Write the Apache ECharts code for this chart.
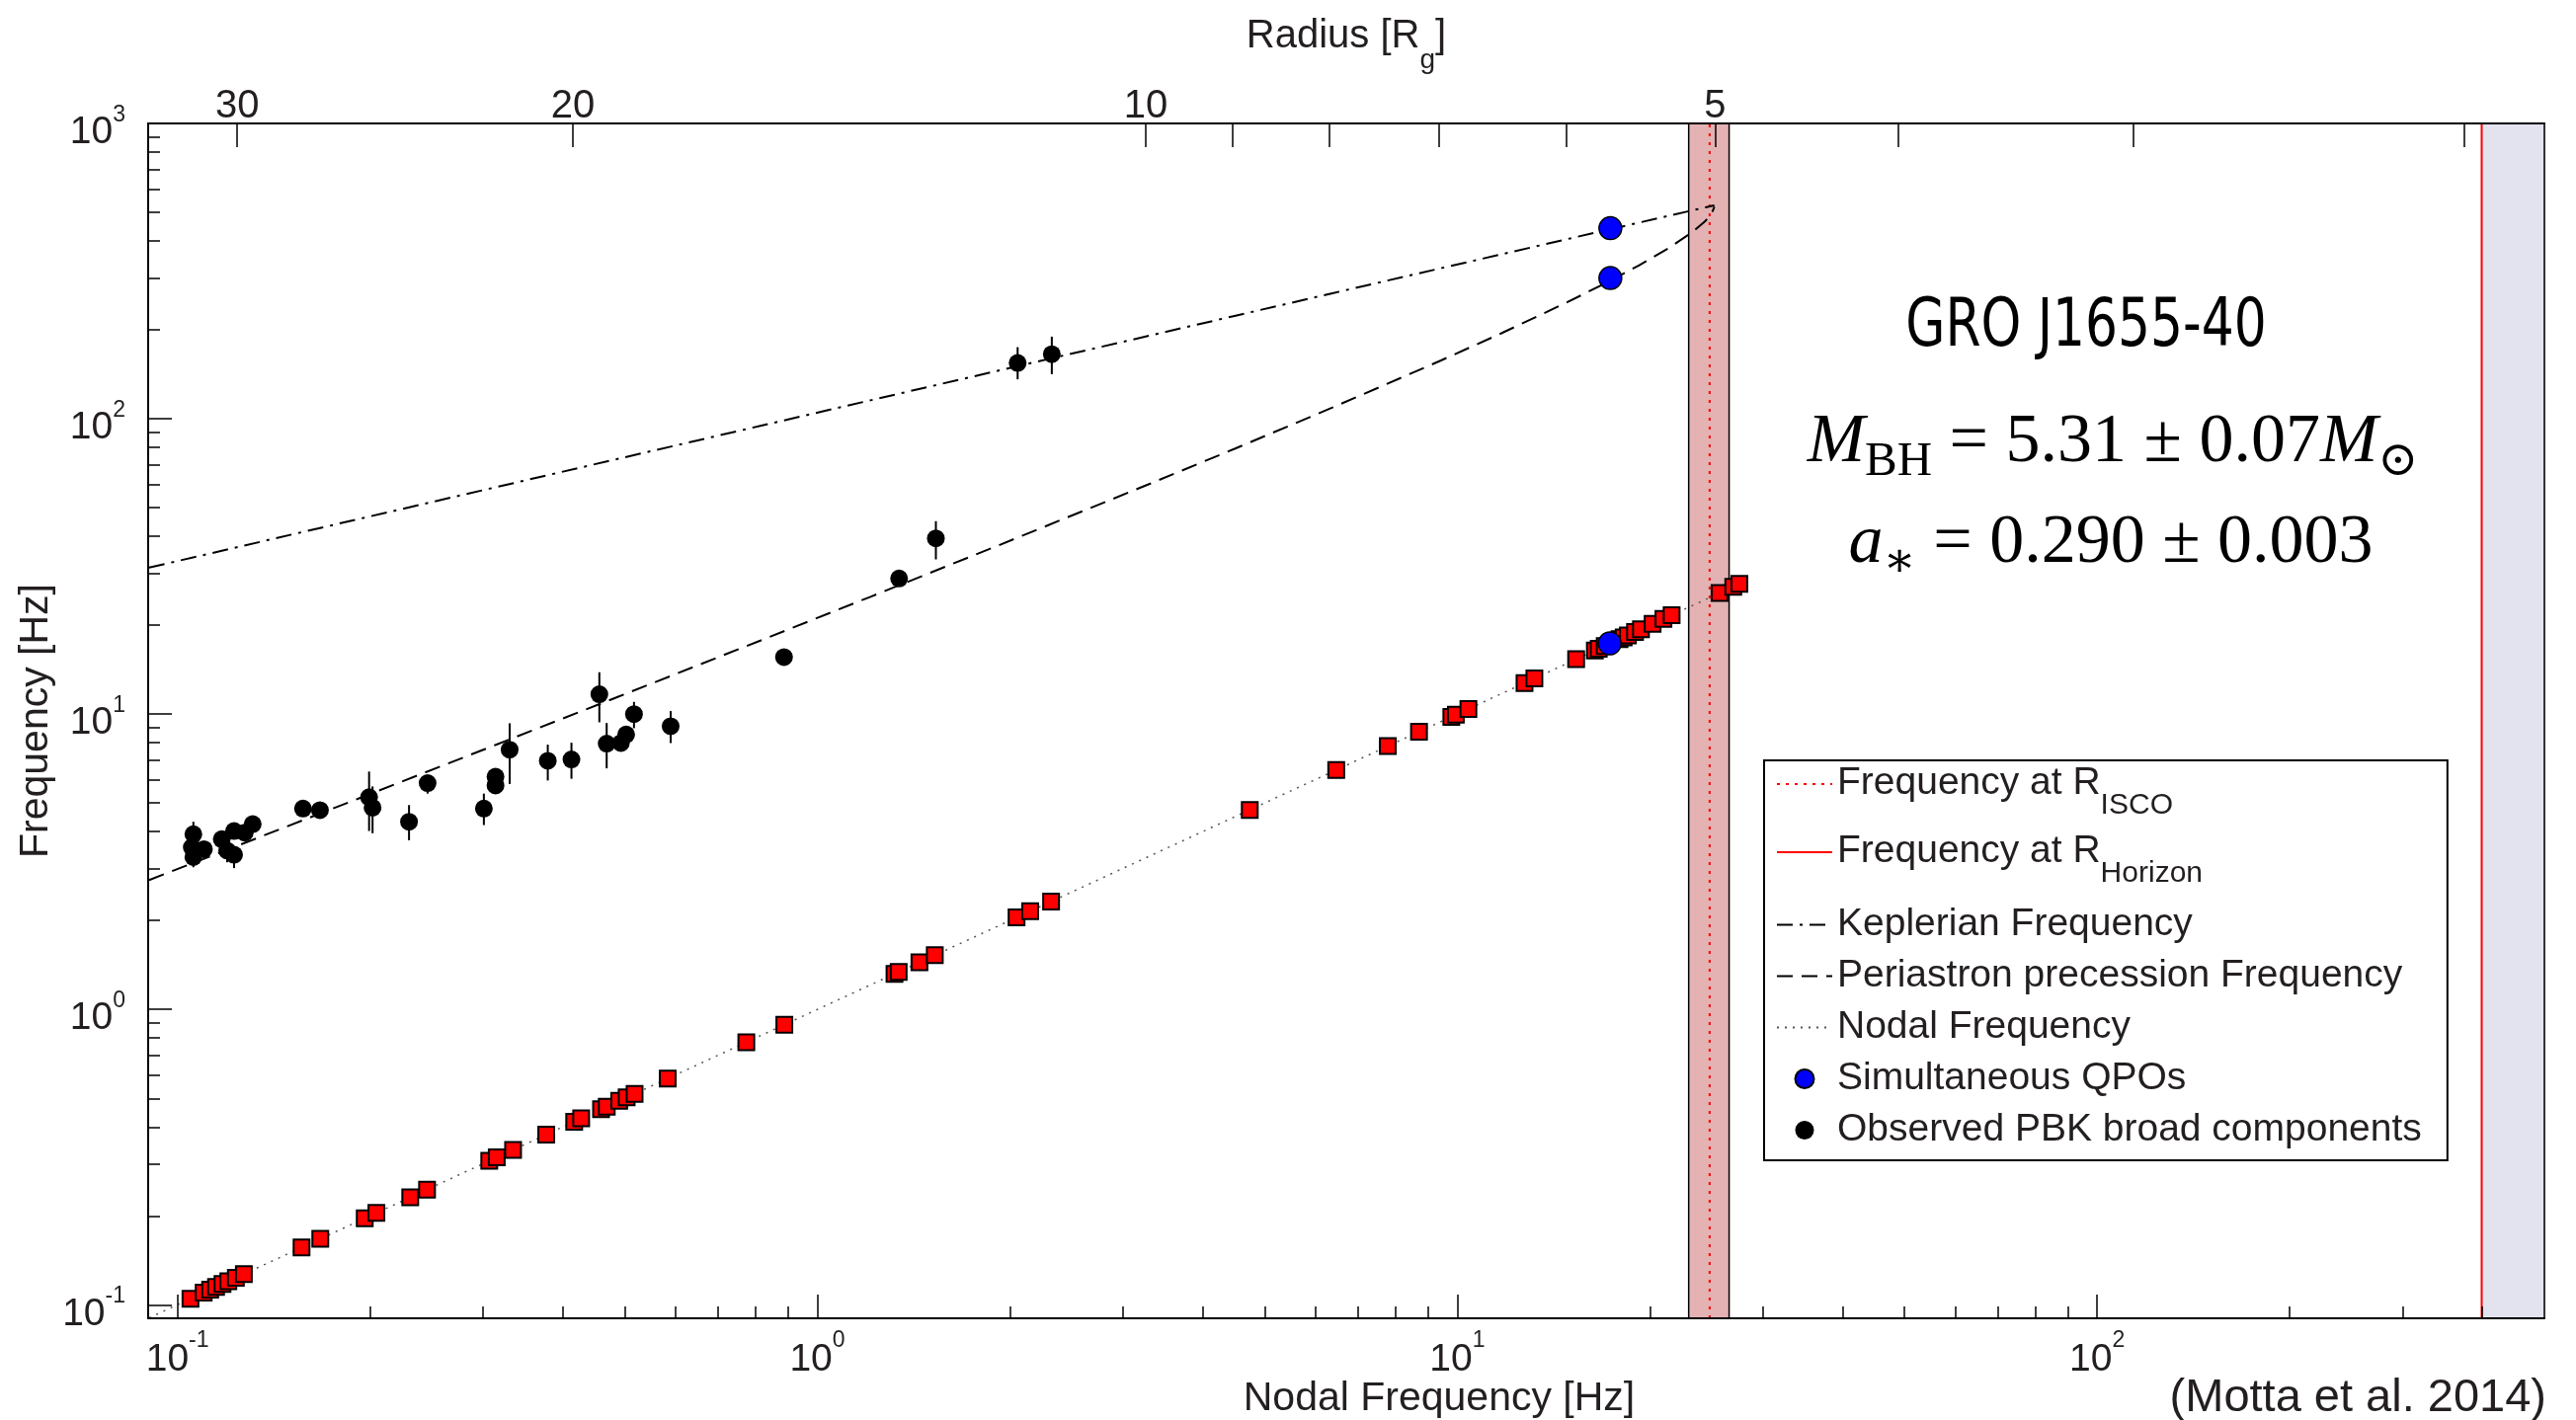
<!DOCTYPE html>
<html><head><meta charset="utf-8">
<script src="https://cdn.jsdelivr.net/npm/echarts@6/dist/echarts.min.js"></script>
<style>html,body{margin:0;padding:0;background:#fff}#c{width:2608px;height:1438px}</style>
</head><body><div id="c"></div>
<script>
// ---------------- data ----------------
// model curves, sampled along the plotted lines (x = nodal frequency)
const modelNodal  = [0.0903, 0.1255, 0.1922, 0.3160, 0.4887, 0.8145, 1.2109, 1.9132, 3.2844, 4.4871, 6.3576, 9.4341, 11.742, 14.871, 17.299, 19.220, 21.436, 23.328, 24.430, 25.006, 25.227];
const modelKepler = [31.33, 36.96, 45.79, 58.80, 73.21, 94.63, 115.50, 145.34, 190.64, 222.94, 265.48, 323.44, 360.82, 405.95, 437.74, 461.31, 487.05, 507.97, 519.74, 525.79, 528.1];
const modelPeri   = [2.742, 3.617, 5.185, 7.903, 11.455, 17.738, 24.965, 37.157, 59.83, 79.12, 108.74, 157.58, 195.10, 248.28, 292.51, 330.33, 379.15, 429.36, 467.82, 497.78, 521.9];

// red squares: type-C QPOs sitting on the nodal line (frequency vs itself)
const qpoNodal = [0.1048, 0.1099, 0.1125, 0.1149, 0.1176, 0.1201, 0.1234, 0.1270, 0.1563, 0.1672, 0.1962, 0.2046, 0.2311, 0.2455, 0.3071, 0.3155, 0.3346, 0.3770, 0.4169, 0.4275, 0.4592, 0.4687, 0.4902, 0.5035, 0.5181, 0.5837, 0.7745, 0.888, 1.32, 1.34, 1.444, 1.526, 2.048, 2.151, 2.319, 4.74, 6.47, 7.79, 8.715, 9.79, 9.95, 10.41, 12.74, 13.2, 15.34, 16.41, 16.64, 17.0, 17.93, 18.2, 18.48, 18.96, 19.37, 20.2, 21.0, 21.63, 25.7, 27.0, 27.6];

// black points: observed PBK broad components with error bars
const pbkX  = [0.1059, 0.1053, 0.1059, 0.1100, 0.1173, 0.1196, 0.1226, 0.1226, 0.1274, 0.1311, 0.1571, 0.1670, 0.1993, 0.2018, 0.2301, 0.2460, 0.3012, 0.3141, 0.3141, 0.3305, 0.3791, 0.4128, 0.4564, 0.4686, 0.4932, 0.5026, 0.5170, 0.5899, 0.887, 1.342, 1.532, 2.056, 2.325];
const pbkY  = [3.92, 3.54, 3.28, 3.49, 3.77, 3.45, 4.02, 3.34, 3.97, 4.24, 4.79, 4.73, 5.23, 4.82, 4.32, 5.84, 4.79, 6.14, 5.73, 7.58, 6.95, 7.02, 11.67, 7.94, 7.98, 8.53, 10.0, 9.10, 15.6, 28.8, 39.35, 154.5, 165.4];
const pbkLo = [3.6, 3.35, 3.03, 3.35, 3.55, 3.15, 3.85, 3.01, 3.8, 4.1, 4.6, 4.55, 4.02, 3.95, 3.74, 5.38, 4.21, 5.75, 5.4, 5.80, 5.96, 6.04, 9.38, 6.55, 7.6, 8.1, 8.96, 7.98, 14.9, 27.3, 33.4, 136, 141.6];
const pbkHi = [4.32, 3.7, 3.5, 3.65, 3.95, 3.7, 4.2, 3.55, 4.12, 4.4, 5.0, 4.9, 6.39, 5.69, 4.92, 6.19, 5.38, 6.55, 6.0, 9.31, 7.88, 8.0, 13.86, 9.33, 8.3, 8.9, 11.0, 10.24, 16.3, 30.2, 45.0, 174.8, 189.7];

// blue points: simultaneous QPOs
const simX = [17.35, 17.35, 17.31];
const simY = [442, 299.5, 17.35];

// characteristic frequencies
const iscoFreq = 24.8;
const iscoBand = [23.0, 26.6];
const horizonFreq = 399;

// axis ticks
const xMajor = [0.1, 1, 10, 100];
const xMinor = [0.2,0.3,0.4,0.5,0.6,0.7,0.8,0.9, 2,3,4,5,6,7,8,9, 20,30,40,50,60,70,80,90, 200,300,400];
const yMajor = [0.1, 1, 10, 100, 1000];
const yMinor = [0.2,0.3,0.4,0.5,0.6,0.7,0.8,0.9, 2,3,4,5,6,7,8,9, 20,30,40,50,60,70,80,90, 200,300,400,500,600,700,800,900];
const radiusTicks    = [30, 20, 10, 9, 8, 7, 6, 5, 4, 3, 2];
const radiusTickPos  = [0.124, 0.415, 3.26, 4.45, 6.32, 9.36, 14.8, 25.3, 48.9, 114, 375];
const radiusLabeled  = [30, 20, 10, 5];

// ---------------- chart ----------------
const FONT = "'Liberation Sans', Arial, Helvetica, sans-serif";
const SERIF = "'Liberation Serif', 'DejaVu Serif', serif";
const TXT = '#231f20';
const XMIN = 0.09, XMAX = 500, YMIN = 0.09, YMAX = 1000;

function powLabel(v) {
  const e = Math.round(Math.log10(v));
  return '{b|10}{s|' + (e < 0 ? '-' + (-e) : e) + '}';
}
const xRich = {
  b: {fontSize: 39, lineHeight: 40, padding: [12, 0, 0, 0], verticalAlign: 'top', fontFamily: FONT, color: TXT},
  s: {fontSize: 23, lineHeight: 24, verticalAlign: 'top', fontFamily: FONT, color: TXT}
};
const yRich = {
  b: {fontSize: 39, lineHeight: 40, padding: [10, 0, 10, 0], verticalAlign: 'top', fontFamily: FONT, color: TXT},
  s: {fontSize: 23, lineHeight: 24, verticalAlign: 'top', fontFamily: FONT, color: TXT}
};
const axLine = {show: true, lineStyle: {color: '#000', width: 2}};
const noLine = {show: false};

const legendText = {
  isco: '{t|Frequency at R}{s|ISCO}',
  horizon: '{t|Frequency at R}{s|Horizon}',
  kepler: '{p|Keplerian Frequency}',
  peri: '{p|Periastron precession Frequency}',
  nodal: '{p|Nodal Frequency}',
  qpo: '{p|Simultaneous QPOs}',
  pbk: '{p|Observed PBK broad components}'
};

const mathRich = {
  i: {fontSize: 70, lineHeight: 76, fontStyle: 'italic', fontFamily: SERIF, verticalAlign: 'top', fill: '#000'},
  n: {fontSize: 70, lineHeight: 76, fontFamily: SERIF, verticalAlign: 'top', fill: '#000'},
  s: {fontSize: 49, lineHeight: 49, padding: [30, 0, 0, 0], fontFamily: SERIF, verticalAlign: 'top', fill: '#000'}
};

const chart = echarts.init(document.getElementById('c'), null, {renderer: 'canvas'});
chart.setOption({
  animation: false,
  backgroundColor: '#fff',
  grid: {left: 150, right: 32, top: 125, bottom: 103, show: false, containLabel: false, outerBoundsMode: 'none'},
  xAxis: [
    { type: 'log', position: 'bottom', min: XMIN, max: XMAX, z: 5,
      axisLine: axLine,
      axisTick: {customValues: xMajor, inside: true, length: 24, lineStyle: {color: '#000', width: 1.5}},
      axisLabel: {customValues: xMajor, formatter: powLabel, rich: xRich, margin: 11},
      splitLine: {show: false}, minorTick: {show: false},
      name: 'Nodal Frequency [Hz]', nameLocation: 'middle', nameGap: 60, nameMoveOverlap: false,
      nameTextStyle: {fontSize: 41, lineHeight: 44, fontFamily: FONT, color: TXT, padding: [0, 0, 0, 188]}
    },
    { type: 'log', position: 'bottom', min: XMIN, max: XMAX, z: 5,
      axisLine: noLine,
      axisTick: {customValues: xMinor, inside: true, length: 12, lineStyle: {color: '#000', width: 1.5}},
      axisLabel: {show: false}, splitLine: {show: false}
    },
    { type: 'log', position: 'top', min: XMIN, max: XMAX, z: 5,
      axisLine: axLine,
      axisTick: {customValues: radiusTickPos, inside: true, length: 24, lineStyle: {color: '#000', width: 1.5}},
      axisLabel: {
        customValues: radiusLabeled.map(r => radiusTickPos[radiusTicks.indexOf(r)]),
        formatter: function (v) {
          let best = 0, d = Infinity;
          radiusTickPos.forEach((p, i) => { const dd = Math.abs(Math.log(v / p)); if (dd < d) { d = dd; best = i; } });
          return String(radiusTicks[best]);
        },
        margin: -3, fontSize: 40, lineHeight: 40, fontFamily: FONT, color: TXT
      },
      splitLine: {show: false},
      name: '{t|Radius [R}{g|g}{t|]}', nameLocation: 'middle', nameGap: 64, nameMoveOverlap: false,
      nameTextStyle: {
        rich: {
          t: {fontSize: 40, lineHeight: 44, verticalAlign: 'top', fontFamily: FONT, color: TXT},
          g: {fontSize: 28, lineHeight: 30, padding: [30, 0, 0, 0], verticalAlign: 'top', fontFamily: FONT, color: TXT}
        }
      }
    }
  ],
  yAxis: [
    { type: 'log', position: 'left', min: YMIN, max: YMAX, z: 5,
      axisLine: axLine,
      axisTick: {customValues: yMajor, inside: true, length: 24, lineStyle: {color: '#000', width: 1.5}},
      axisLabel: {customValues: yMajor, formatter: powLabel, rich: yRich, margin: 23},
      splitLine: {show: false},
      name: 'Frequency [Hz]', nameLocation: 'middle', nameGap: 91, nameMoveOverlap: false,
      nameTextStyle: {fontSize: 41, lineHeight: 44, fontFamily: FONT, color: TXT}
    },
    { type: 'log', position: 'left', min: YMIN, max: YMAX, z: 5,
      axisLine: noLine,
      axisTick: {customValues: yMinor, inside: true, length: 12, lineStyle: {color: '#000', width: 1.5}},
      axisLabel: {show: false}, splitLine: {show: false}
    },
    { type: 'log', position: 'right', min: YMIN, max: YMAX, z: 5,
      axisLine: {show: true, lineStyle: {color: '#333', width: 2}},
      axisTick: {show: false}, axisLabel: {show: false}, splitLine: {show: false}
    }
  ],
  legend: {
    orient: 'vertical', left: 1786, top: 770,
    padding: [4, 26, 6, 12],
    itemGap: 3, itemWidth: 56, itemHeight: 19,
    borderColor: '#000', borderWidth: 2, backgroundColor: '#fff',
    selectedMode: false,
    formatter: name => legendText[name],
    textStyle: {
      color: TXT, fontFamily: FONT,
      rich: {
        t: {fontSize: 39, lineHeight: 40, verticalAlign: 'top', fontFamily: FONT, color: TXT},
        s: {fontSize: 30, lineHeight: 30, padding: [27, 0, 9, 0], verticalAlign: 'top', fontFamily: FONT, color: TXT},
        p: {fontSize: 39, lineHeight: 39, padding: [5, 0, 5, 0], fontFamily: FONT, color: TXT}
      }
    },
    data: [
      {name: 'isco', itemStyle: {opacity: 0}},
      {name: 'horizon', itemStyle: {opacity: 0}},
      {name: 'kepler', itemStyle: {opacity: 0}},
      {name: 'peri', itemStyle: {opacity: 0}},
      {name: 'nodal', itemStyle: {opacity: 0}},
      {name: 'qpo', icon: 'circle'},
      {name: 'pbk', icon: 'circle'}
    ]
  },
  graphic: [
    {type: 'text', z: 10, x: 2112, y: 333, scaleX: 0.86, scaleY: 1,
      style: {x: 0, y: 0, text: 'GRO J1655-40', fill: '#000',
      font: "67px 'Liberation Sans Narrow', 'DejaVu Sans Condensed', sans-serif",
      textAlign: 'center', textVerticalAlign: 'middle', align: 'center', verticalAlign: 'middle'}},
    {type: 'text', z: 10, style: {x: 2139, y: 452, text: '{i|M}{s|BH}{n| = 5.31 ± 0.07}{i|M}{s|⊙}', fill: '#000',
      textAlign: 'center', textVerticalAlign: 'middle', align: 'center', verticalAlign: 'middle', rich: mathRich}},
    {type: 'text', z: 10, style: {x: 2137, y: 554, text: '{i|a}{s|∗}{n| = 0.290 ± 0.003}', fill: '#000',
      textAlign: 'center', textVerticalAlign: 'middle', align: 'center', verticalAlign: 'middle', rich: mathRich}},
    {type: 'text', z: 10, style: {x: 2578, y: 1416, text: '(Motta et al. 2014)', fill: TXT,
      font: "47px 'Liberation Sans', Arial, sans-serif",
      textAlign: 'right', textVerticalAlign: 'middle', align: 'right', verticalAlign: 'middle'}}
  ],
  series: [
    { name: 'bands', type: 'line', data: [], z: 1, silent: true,
      markArea: {
        silent: true,
        data: [
          [{xAxis: iscoBand[0], itemStyle: {color: '#E4B2B2', borderColor: '#000', borderWidth: 1.5}}, {xAxis: iscoBand[1]}],
          [{xAxis: horizonFreq, itemStyle: {color: '#E3E3EF', borderWidth: 0}}, {xAxis: XMAX}]
        ]
      }
    },
    { name: 'isco', type: 'line', symbol: 'none', z: 2,
      data: [[iscoFreq, YMIN], [iscoFreq, YMAX]],
      lineStyle: {color: '#ff0000', width: 2, type: [3, 6]}, itemStyle: {color: '#ff0000'} },
    { name: 'horizon', type: 'line', symbol: 'none', z: 2,
      data: [[horizonFreq, YMIN], [horizonFreq, YMAX]],
      lineStyle: {color: '#ff0000', width: 2}, itemStyle: {color: '#ff0000'} },
    { name: 'kepler', type: 'line', symbol: 'none', z: 2,
      data: modelNodal.map((x, i) => [x, modelKepler[i]]),
      lineStyle: {color: '#000', width: 2, type: [16, 7, 3, 7]}, itemStyle: {color: '#000'} },
    { name: 'peri', type: 'line', symbol: 'none', z: 2,
      data: modelNodal.map((x, i) => [x, modelPeri[i]]),
      lineStyle: {color: '#000', width: 2, type: [16, 9]}, itemStyle: {color: '#000'} },
    { name: 'nodal', type: 'line', symbol: 'none', z: 2,
      data: modelNodal.map(x => [x, x]),
      lineStyle: {color: '#555', width: 1.5, type: [2, 6]}, itemStyle: {color: '#555'} },
    { name: 'qpoNodal', type: 'scatter', symbol: 'rect', symbolSize: 16, z: 3,
      data: qpoNodal.map(v => [v, v]),
      itemStyle: {color: '#ff0000', borderColor: '#000', borderWidth: 2, opacity: 1} },
    { name: 'errbars', type: 'custom', z: 3, silent: true,
      data: pbkX.map((x, i) => [x, pbkLo[i], pbkHi[i]]),
      encode: {x: 0, y: [1, 2]},
      renderItem: function (params, api) {
        const p1 = api.coord([api.value(0), api.value(1)]);
        const p2 = api.coord([api.value(0), api.value(2)]);
        return {type: 'line', shape: {x1: p1[0], y1: p1[1], x2: p2[0], y2: p2[1]}, style: {stroke: '#000', lineWidth: 2}};
      }
    },
    { name: 'pbk', type: 'scatter', symbol: 'circle', symbolSize: 18, z: 4,
      data: pbkX.map((x, i) => [x, pbkY[i]]),
      itemStyle: {color: '#000', opacity: 1} },
    { name: 'qpo', type: 'scatter', symbol: 'circle', symbolSize: 23, z: 4,
      data: simX.map((x, i) => [x, simY[i]]),
      itemStyle: {color: '#0000ff', borderColor: '#000', borderWidth: 1.5, opacity: 1} }
  ]
});
</script>
</body></html>
